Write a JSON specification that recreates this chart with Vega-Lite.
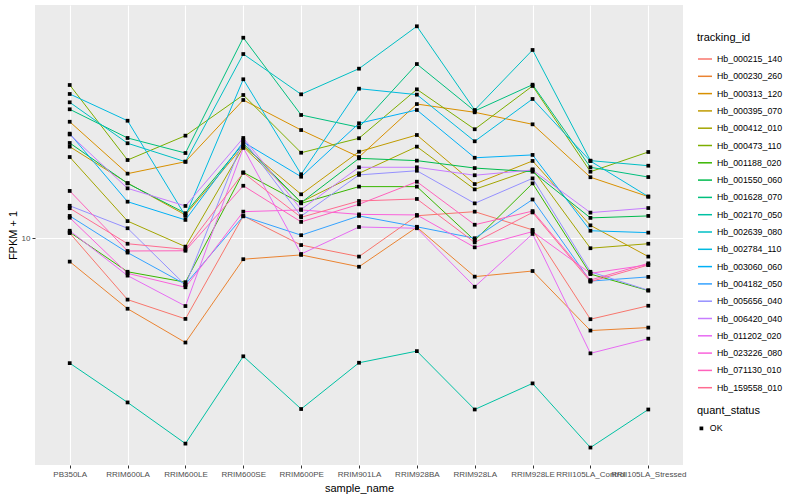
{
  "$schema": "https://vega.github.io/schema/vega-lite/v6.json",
  "width": 648,
  "height": 460,
  "autosize": {"type": "none"},
  "padding": {"left": 35, "top": 5, "right": 117, "bottom": 35},
  "background": "white",
  "data": {"values": [
    {"tracking_id": "Hb_000215_140", "quant_status": "OK", "PB350LA": 10.23, "RRIM600LA": 7.53, "RRIM600LE": 6.89, "RRIM600SE": 11.07, "RRIM600PE": 9.68, "RRIM901LA": 9.18, "RRIM928BA": 11.08, "RRIM928LA": 11.29, "RRIM928LE": 10.38, "RRII105LA_Control": 6.88, "RRII105LA_Stressed": 7.32},
    {"tracking_id": "Hb_000230_260", "quant_status": "OK", "PB350LA": 8.97, "RRIM600LA": 7.22, "RRIM600LE": 6.18, "RRIM600SE": 9.07, "RRIM600PE": 9.25, "RRIM901LA": 8.76, "RRIM928BA": 10.51, "RRIM928LA": 8.37, "RRIM928LE": 8.59, "RRII105LA_Control": 6.53, "RRII105LA_Stressed": 6.62},
    {"tracking_id": "Hb_000313_120", "quant_status": "OK", "PB350LA": 17.08, "RRIM600LA": 13.45, "RRIM600LE": 14.21, "RRIM600SE": 18.88, "RRIM600PE": 16.44, "RRIM901LA": 14.52, "RRIM928BA": 18.53, "RRIM928LA": 17.84, "RRIM928LE": 16.88, "RRII105LA_Control": 13.23, "RRII105LA_Stressed": 12.10},
    {"tracking_id": "Hb_000395_070", "quant_status": "OK", "PB350LA": 15.23, "RRIM600LA": 12.88, "RRIM600LE": 11.12, "RRIM600SE": 15.28, "RRIM600PE": 12.23, "RRIM901LA": 14.88, "RRIM928BA": 16.07, "RRIM928LA": 12.82, "RRIM928LE": 14.26, "RRII105LA_Control": 10.60, "RRII105LA_Stressed": 9.18},
    {"tracking_id": "Hb_000412_010", "quant_status": "OK", "PB350LA": 14.52, "RRIM600LA": 10.81, "RRIM600LE": 9.61, "RRIM600SE": 15.21, "RRIM600PE": 11.80, "RRIM901LA": 13.47, "RRIM928BA": 15.23, "RRIM928LA": 12.51, "RRIM928LE": 13.72, "RRII105LA_Control": 9.54, "RRII105LA_Stressed": 9.74},
    {"tracking_id": "Hb_000473_110", "quant_status": "OK", "PB350LA": 20.23, "RRIM600LA": 14.32, "RRIM600LE": 16.02, "RRIM600SE": 19.32, "RRIM600PE": 14.81, "RRIM901LA": 15.83, "RRIM928BA": 19.83, "RRIM928LA": 16.50, "RRIM928LE": 20.14, "RRII105LA_Control": 13.57, "RRII105LA_Stressed": 14.86},
    {"tracking_id": "Hb_001188_020", "quant_status": "OK", "PB350LA": 10.27, "RRIM600LA": 8.56, "RRIM600LE": 8.16, "RRIM600SE": 13.53, "RRIM600PE": 11.73, "RRIM901LA": 12.67, "RRIM928BA": 12.67, "RRIM928LA": 9.89, "RRIM928LE": 12.86, "RRII105LA_Control": 8.47, "RRII105LA_Stressed": 7.85},
    {"tracking_id": "Hb_001550_060", "quant_status": "OK", "PB350LA": 15.49, "RRIM600LA": 12.86, "RRIM600LE": 11.21, "RRIM600SE": 15.45, "RRIM600PE": 11.77, "RRIM901LA": 14.43, "RRIM928BA": 14.28, "RRIM928LA": 13.80, "RRIM928LE": 13.57, "RRII105LA_Control": 10.97, "RRII105LA_Stressed": 11.07},
    {"tracking_id": "Hb_001628_070", "quant_status": "OK", "PB350LA": 18.09, "RRIM600LA": 15.85, "RRIM600LE": 14.79, "RRIM600SE": 25.15, "RRIM600PE": 17.62, "RRIM901LA": 16.65, "RRIM928BA": 22.28, "RRIM928LA": 17.95, "RRIM928LE": 20.26, "RRII105LA_Control": 13.85, "RRII105LA_Stressed": 13.24},
    {"tracking_id": "Hb_002170_050", "quant_status": "OK", "PB350LA": 5.62, "RRIM600LA": 4.69, "RRIM600LE": 3.88, "RRIM600SE": 5.80, "RRIM600PE": 4.55, "RRIM901LA": 5.63, "RRIM928BA": 5.94, "RRIM928LA": 4.54, "RRIM928LE": 5.12, "RRII105LA_Control": 3.81, "RRII105LA_Stressed": 4.54},
    {"tracking_id": "Hb_002639_080", "quant_status": "OK", "PB350LA": 18.68, "RRIM600LA": 15.47, "RRIM600LE": 14.21, "RRIM600SE": 23.33, "RRIM600PE": 19.38, "RRIM901LA": 21.81, "RRIM928BA": 26.51, "RRIM928LA": 18.03, "RRIM928LE": 23.77, "RRII105LA_Control": 14.28, "RRII105LA_Stressed": 13.95},
    {"tracking_id": "Hb_002784_110", "quant_status": "OK", "PB350LA": 19.41, "RRIM600LA": 17.16, "RRIM600LE": 11.07, "RRIM600SE": 20.77, "RRIM600PE": 13.41, "RRIM901LA": 19.89, "RRIM928BA": 19.35, "RRIM928LA": 15.61, "RRIM928LE": 18.97, "RRII105LA_Control": 14.25, "RRII105LA_Stressed": 12.10},
    {"tracking_id": "Hb_003060_060", "quant_status": "OK", "PB350LA": 16.17, "RRIM600LA": 11.82, "RRIM600LE": 10.87, "RRIM600SE": 15.56, "RRIM600PE": 13.26, "RRIM901LA": 16.96, "RRIM928BA": 18.03, "RRIM928LA": 14.47, "RRIM928LE": 14.66, "RRII105LA_Control": 10.34, "RRII105LA_Stressed": 10.25},
    {"tracking_id": "Hb_004182_050", "quant_status": "OK", "PB350LA": 11.07, "RRIM600LA": 9.35, "RRIM600LE": 8.08, "RRIM600SE": 11.05, "RRIM600PE": 10.13, "RRIM901LA": 11.07, "RRIM928BA": 10.53, "RRIM928LA": 9.99, "RRIM928LE": 11.94, "RRII105LA_Control": 8.20, "RRII105LA_Stressed": 8.36},
    {"tracking_id": "Hb_005656_040", "quant_status": "OK", "PB350LA": 11.60, "RRIM600LA": 10.46, "RRIM600LE": 8.05, "RRIM600SE": 15.70, "RRIM600PE": 11.06, "RRIM901LA": 13.37, "RRIM928BA": 13.63, "RRIM928LA": 11.73, "RRIM928LE": 13.16, "RRII105LA_Control": 8.56, "RRII105LA_Stressed": 7.86},
    {"tracking_id": "Hb_006420_040", "quant_status": "OK", "PB350LA": 16.11, "RRIM600LA": 12.57, "RRIM600LE": 11.59, "RRIM600SE": 15.85, "RRIM600PE": 11.41, "RRIM901LA": 13.85, "RRIM928BA": 13.85, "RRIM928LA": 13.35, "RRIM928LE": 13.68, "RRII105LA_Control": 11.24, "RRII105LA_Stressed": 11.48},
    {"tracking_id": "Hb_011202_020", "quant_status": "OK", "PB350LA": 10.34, "RRIM600LA": 8.41, "RRIM600LE": 7.31, "RRIM600SE": 15.14, "RRIM600PE": 9.29, "RRIM901LA": 10.52, "RRIM928BA": 10.46, "RRIM928LA": 7.99, "RRIM928LE": 10.19, "RRII105LA_Control": 5.88, "RRII105LA_Stressed": 6.29},
    {"tracking_id": "Hb_023226_080", "quant_status": "OK", "PB350LA": 10.98, "RRIM600LA": 8.50, "RRIM600LE": 7.97, "RRIM600SE": 11.29, "RRIM600PE": 11.38, "RRIM901LA": 11.15, "RRIM928BA": 11.12, "RRIM928LA": 9.58, "RRIM928LE": 10.30, "RRII105LA_Control": 8.50, "RRII105LA_Stressed": 8.84},
    {"tracking_id": "Hb_071130_010", "quant_status": "OK", "PB350LA": 12.42, "RRIM600LA": 9.42, "RRIM600LE": 9.43, "RRIM600SE": 12.72, "RRIM600PE": 10.77, "RRIM901LA": 11.68, "RRIM928BA": 12.96, "RRIM928LA": 10.63, "RRIM928LE": 11.32, "RRII105LA_Control": 8.24, "RRII105LA_Stressed": 8.90},
    {"tracking_id": "Hb_159558_010", "quant_status": "OK", "PB350LA": 11.47, "RRIM600LA": 9.74, "RRIM600LE": 9.49, "RRIM600SE": 13.50, "RRIM600PE": 11.00, "RRIM901LA": 11.86, "RRIM928BA": 11.97, "RRIM928LA": 9.80, "RRIM928LE": 11.25, "RRII105LA_Control": 8.18, "RRII105LA_Stressed": 8.83}
  ]},
  "transform": [
    {"fold": ["PB350LA", "RRIM600LA", "RRIM600LE", "RRIM600SE", "RRIM600PE", "RRIM901LA", "RRIM928BA", "RRIM928LA", "RRIM928LE", "RRII105LA_Control", "RRII105LA_Stressed"], "as": ["sample_name", "fpkm"]}
  ],
  "encoding": {
    "x": {
      "field": "sample_name", "type": "nominal",
      "sort": ["PB350LA", "RRIM600LA", "RRIM600LE", "RRIM600SE", "RRIM600PE", "RRIM901LA", "RRIM928BA", "RRIM928LA", "RRIM928LE", "RRII105LA_Control", "RRII105LA_Stressed"],
      "scale": {"type": "point", "padding": 0.6},
      "axis": {"labelAngle": 0, "labelOverlap": false, "grid": true, "title": "sample_name", "labelPadding": 2, "titlePadding": 4}
    },
    "y": {
      "field": "fpkm", "type": "quantitative",
      "scale": {"type": "log", "domain": [3.516, 29.24], "nice": false, "zero": false},
      "axis": {"values": [10], "format": "d", "grid": true, "title": "FPKM + 1", "labelPadding": 2, "titlePadding": 3}
    }
  },
  "layer": [
    {
      "mark": {"type": "line", "strokeWidth": 1},
      "encoding": {
        "color": {
          "field": "tracking_id", "type": "nominal", "title": "tracking_id",
          "scale": {
            "domain": ["Hb_000215_140", "Hb_000230_260", "Hb_000313_120", "Hb_000395_070", "Hb_000412_010", "Hb_000473_110", "Hb_001188_020", "Hb_001550_060", "Hb_001628_070", "Hb_002170_050", "Hb_002639_080", "Hb_002784_110", "Hb_003060_060", "Hb_004182_050", "Hb_005656_040", "Hb_006420_040", "Hb_011202_020", "Hb_023226_080", "Hb_071130_010", "Hb_159558_010"],
            "range": ["#F8766D", "#EA8331", "#D89000", "#C09B00", "#A3A500", "#7CAE00", "#39B600", "#00BB4E", "#00BF7D", "#00C1A3", "#00BFC4", "#00BAE0", "#00B0F6", "#35A2FF", "#9590FF", "#C77CFF", "#E76BF3", "#FA62DB", "#FF62BC", "#FF6C91"]
          },
          "legend": {"orient": "none", "legendX": 662, "legendY": 27, "symbolType": "stroke", "symbolSize": 196, "symbolStrokeWidth": 1.5, "rowPadding": 4.3}
        }
      }
    },
    {
      "mark": {"type": "point", "filled": true, "size": 14, "color": "black", "opacity": 1},
      "encoding": {
        "shape": {
          "field": "quant_status", "type": "nominal", "title": "quant_status",
          "scale": {"domain": ["OK"], "range": ["square"]},
          "legend": {"orient": "none", "legendX": 662, "legendY": 400, "symbolSize": 14, "symbolFillColor": "black", "symbolStrokeColor": "black"}
        }
      }
    }
  ],
  "config": {
    "view": {"fill": "#EBEBEB", "stroke": null},
    "font": "Liberation Sans",
    "axis": {
      "domain": false, "tickColor": "#333333", "tickSize": 3, "tickWidth": 1,
      "labelColor": "#4D4D4D", "labelFontSize": 8, "labelFont": "Liberation Sans",
      "titleFont": "Liberation Sans", "titleFontSize": 11, "titleFontWeight": "normal", "titleColor": "#000000",
      "gridColor": "#FFFFFF", "gridWidth": 1.1, "gridOpacity": 1
    },
    "legend": {
      "titleFont": "Liberation Sans", "titleFontSize": 11, "titleFontWeight": "normal", "titleColor": "#000000",
      "labelFont": "Liberation Sans", "labelFontSize": 8.8, "labelColor": "#000000", "titlePadding": 8
    }
  }
}
